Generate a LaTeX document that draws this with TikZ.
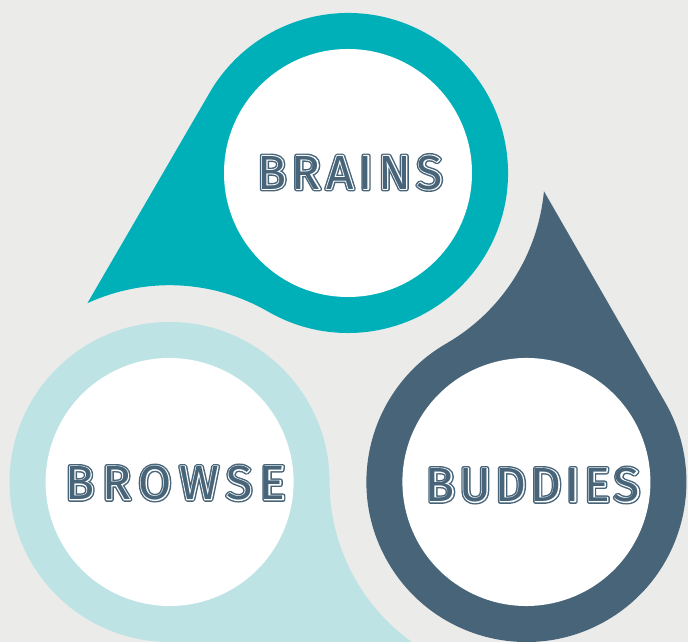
\documentclass[tikz,border=0pt]{standalone}
\usepackage{fontspec}
\setmainfont{Fira Sans}
\newfontfamily\txtcore{Fira Sans}
\newfontfamily\txtwhite{Fira Sans}[FakeBold=4]
\newfontfamily\txtouter{Fira Sans}[FakeBold=10]
\definecolor{bgc}{HTML}{EBEBE9}
\definecolor{teal}{HTML}{00B0B9}
\definecolor{slate}{HTML}{476479}
\definecolor{lightb}{HTML}{BDE3E5}
\newcommand\inlinetext[2]{%
  \makebox[0pt]{\txtouter\addfontfeature{LetterSpace=#1}\color{slate}#2}%
  \makebox[0pt]{\txtwhite\addfontfeature{LetterSpace=#1}\color{white}#2}%
  \makebox[0pt]{\txtcore\addfontfeature{LetterSpace=#1}\color{slate}#2}}
\tikzset{
  label/.style={inner sep=0pt, font=\fontsize{48}{48}\selectfont},
}
\newcommand\dropshape{(87.4,338.8) arc[start angle=114.7, end angle=60, radius=196.8]
   arc[start angle=240, end angle=509.87, radius=160] -- cycle}
\begin{document}
\begin{tikzpicture}[x=1pt,y=1pt,line join=round]
\fill[bgc] (0,0) rectangle (688,642);
\useasboundingbox (0,0) rectangle (688,642);
\coordinate (O) at (348,263);
% Brains
\fill[teal] \dropshape;
\fill[white] (348,469) circle[radius=124];
% Browse
\begin{scope}[rotate around={120:(O)}]
\fill[lightb] \dropshape;
\fill[white] (348,469) circle[radius=124];
\end{scope}
% Buddies
\begin{scope}[rotate around={-120:(O)}]
\fill[slate] \dropshape;
\fill[white] (348,469) circle[radius=124];
\end{scope}
\node[label] (brains) at (350,469.5) {\inlinetext{11}{BRAINS}};
\node[label] (browse) at (175.5,159) {\inlinetext{16}{BROWSE}};
\node[label] (buddies) at (533,157) {\inlinetext{9}{BUDDIES}};
\end{tikzpicture}
\end{document}
